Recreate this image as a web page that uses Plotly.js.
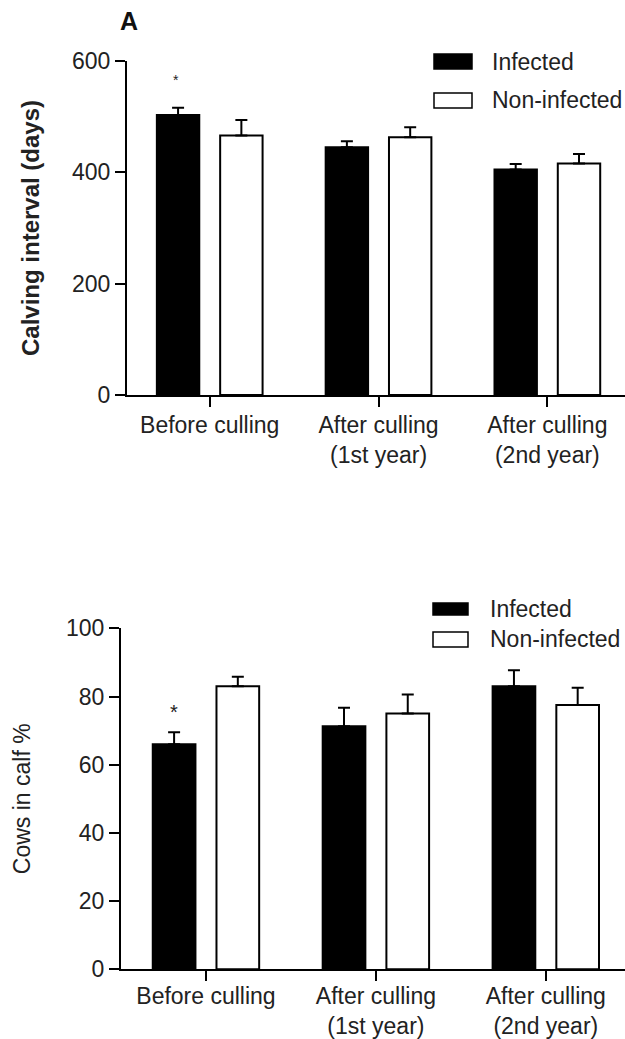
<!DOCTYPE html>
<html>
<head>
<meta charset="utf-8">
<script src="https://cdn.plot.ly/plotly-3.0.1.min.js"></script>
<style>html,body{margin:0;padding:0;background:#fff;}#chart{width:625px;height:1039px;}</style>
</head>
<body>
<div id="chart"></div>
<script>
// ---- Data ----
const categories = ['Before culling', 'After culling<br>(1st year)', 'After culling<br>(2nd year)'];
const seriesNames = ['Infected', 'Non-infected'];

// Panel A: calving interval (days)
const calvingInfected = [503, 445, 405];
const calvingInfectedErr = [13, 11, 10];
const calvingNonInfected = [466, 463, 416];
const calvingNonInfectedErr = [28, 18, 17];
const calvingTicks = [0, 200, 400, 600];

// Panel B: cows in calf %
const calfInfected = [66, 71.3, 83];
const calfInfectedErr = [3.5, 5.4, 4.7];
const calfNonInfected = [83, 75, 77.5];
const calfNonInfectedErr = [2.8, 5.6, 5.1];
const calfTicks = [0, 20, 40, 60, 80, 100];

// significance markers (category, y value)
const calvingSig = {cat: 'Before culling', y: 566};
const calfSig = {cat: 'Before culling', y: 75.5};

// ---- Styles ----
const FONT = 'Liberation Sans, Arial, Helvetica, sans-serif';
const W = 625, H = 1039;
const px = x => x / W;
const py = y => 1 - y / H;

function barTrace(vals, errs, name, fill, xa, ya) {
  return {
    type: 'bar', x: categories, y: vals, name: name,
    xaxis: xa, yaxis: ya,
    marker: {color: fill, line: {color: '#000', width: 2}},
    error_y: {type: 'data', symmetric: false, array: errs, arrayminus: errs.map(() => 0),
              color: '#000', thickness: 2, width: 6},
    hoverinfo: 'skip'
  };
}

const data = [
  barTrace(calvingInfected, calvingInfectedErr, seriesNames[0], '#000', 'x', 'y'),
  barTrace(calvingNonInfected, calvingNonInfectedErr, seriesNames[1], '#fff', 'x', 'y'),
  barTrace(calfInfected, calfInfectedErr, seriesNames[0], '#000', 'x2', 'y2'),
  barTrace(calfNonInfected, calfNonInfectedErr, seriesNames[1], '#fff', 'x2', 'y2')
];

const axisCommon = {
  showline: true, linecolor: '#000', linewidth: 2,
  ticks: 'outside', ticklen: 10, tickwidth: 2, tickcolor: '#000',
  showgrid: false, zeroline: false,
  tickfont: {family: FONT, size: 23, color: '#222'}
};

const layout = {
  width: W, height: H,
  margin: {l: 0, r: 0, t: 0, b: 0},
  paper_bgcolor: '#fff', plot_bgcolor: '#fff',
  showlegend: false,
  barmode: 'group', bargap: 0.25, bargroupgap: 0.33,
  font: {family: FONT, color: '#222'},
  xaxis: Object.assign({}, axisCommon, {
    type: 'category', domain: [px(127), 1], range: [-0.49, 2.46], anchor: 'y',
    ticklabelstandoff: -2
  }),
  yaxis: Object.assign({}, axisCommon, {
    domain: [py(395), py(61)], range: [0, 600], tickvals: calvingTicks, anchor: 'x',
    title: {text: '<b>Calving interval (days)</b>', font: {family: FONT, size: 24, color: '#222'}, standoff: 26}
  }),
  xaxis2: Object.assign({}, axisCommon, {
    type: 'category', domain: [px(121), 1], range: [-0.5, 2.466], anchor: 'y2',
    ticklabelstandoff: -5
  }),
  yaxis2: Object.assign({}, axisCommon, {
    domain: [py(969.3), py(628.3)], range: [0, 100], tickvals: calfTicks, anchor: 'x2',
    title: {text: 'Cows in calf %', font: {family: FONT, size: 23, color: '#222'}, standoff: 29}
  }),
  shapes: [
    // legend swatches panel A
    {type: 'rect', xref: 'paper', yref: 'paper', x0: px(434), x1: px(472), y0: py(69), y1: py(54),
     fillcolor: '#000', line: {color: '#000', width: 1.5}},
    {type: 'rect', xref: 'paper', yref: 'paper', x0: px(434), x1: px(472), y0: py(108), y1: py(93),
     fillcolor: '#fff', line: {color: '#000', width: 1.5}},
    // legend swatches panel B
    {type: 'rect', xref: 'paper', yref: 'paper', x0: px(433), x1: px(468), y0: py(615), y1: py(603),
     fillcolor: '#000', line: {color: '#000', width: 1.5}},
    {type: 'rect', xref: 'paper', yref: 'paper', x0: px(433), x1: px(468), y0: py(647), y1: py(632),
     fillcolor: '#fff', line: {color: '#000', width: 1.5}}
  ],
  annotations: [
    {text: '<b>A</b>', xref: 'paper', yref: 'paper', x: px(129), y: py(21),
     xanchor: 'center', yanchor: 'middle', showarrow: false,
     font: {family: FONT, size: 25, color: '#111'}},
    {text: seriesNames[0], xref: 'paper', yref: 'paper', x: px(490), y: py(62), xanchor: 'left', yanchor: 'middle',
     showarrow: false, font: {family: FONT, size: 23, color: '#222'}},
    {text: seriesNames[1], xref: 'paper', yref: 'paper', x: px(490), y: py(100), xanchor: 'left', yanchor: 'middle',
     showarrow: false, font: {family: FONT, size: 23, color: '#222'}},
    {text: seriesNames[0], xref: 'paper', yref: 'paper', x: px(488), y: py(609), xanchor: 'left', yanchor: 'middle',
     showarrow: false, font: {family: FONT, size: 23, color: '#222'}},
    {text: seriesNames[1], xref: 'paper', yref: 'paper', x: px(488), y: py(639), xanchor: 'left', yanchor: 'middle',
     showarrow: false, font: {family: FONT, size: 23, color: '#222'}},
    {text: '*', xref: 'x', yref: 'y', x: calvingSig.cat, y: calvingSig.y, xshift: -34, showarrow: false,
     font: {family: FONT, size: 14, color: '#222'}},
    {text: '*', xref: 'x2', yref: 'y2', x: calfSig.cat, y: calfSig.y, xshift: -32, showarrow: false,
     font: {family: FONT, size: 20, color: '#222'}}
  ]
};

Plotly.newPlot('chart', data, layout, {displayModeBar: false, staticPlot: true});
</script>
</body>
</html>
